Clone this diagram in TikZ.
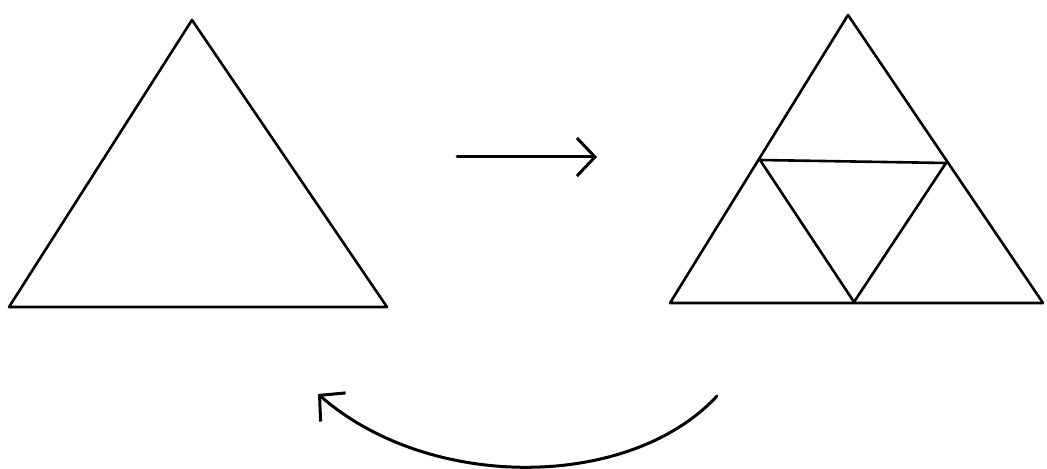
\documentclass[tikz,border=0pt]{standalone}
\usetikzlibrary{arrows.meta}
\begin{document}
\begin{tikzpicture}[x=0.5pt,y=-0.5pt,
  edge/.style={line width=1.3pt,line join=round,line cap=round},
  arr/.style={line width=1.5pt,line cap=round,-{Straight Barb[length=9pt,width=19pt,line width=1.5pt]}}]
\useasboundingbox (0,0) rectangle (1047,469);
% left triangle
\coordinate (LA) at (192,20);
\coordinate (LB) at (9,307);
\coordinate (LC) at (387,307);
\draw[edge] (LA) -- (LB) -- (LC) -- cycle;
% right triangle
\coordinate (RA) at (848,15);
\coordinate (RB) at (670,303);
\coordinate (RC) at (1043,303);
\coordinate (M1) at (760,160);
\coordinate (M2) at (946,163);
\coordinate (M3) at (854,302);
\draw[edge] (RA) -- (RB) -- (RC) -- cycle;
\draw[edge] (M1) -- (M2) -- (M3) -- cycle;
% straight arrow
\coordinate (S1) at (457,157);
\coordinate (S2) at (597,157);
\draw[arr] (S1) -- (S2);
% curved arrow
\coordinate (C1) at (717,396);
\coordinate (C2) at (318,394);
\draw[arr] (C1) .. controls (630,490) and (430,492) .. (C2);
\end{tikzpicture}
\end{document}
